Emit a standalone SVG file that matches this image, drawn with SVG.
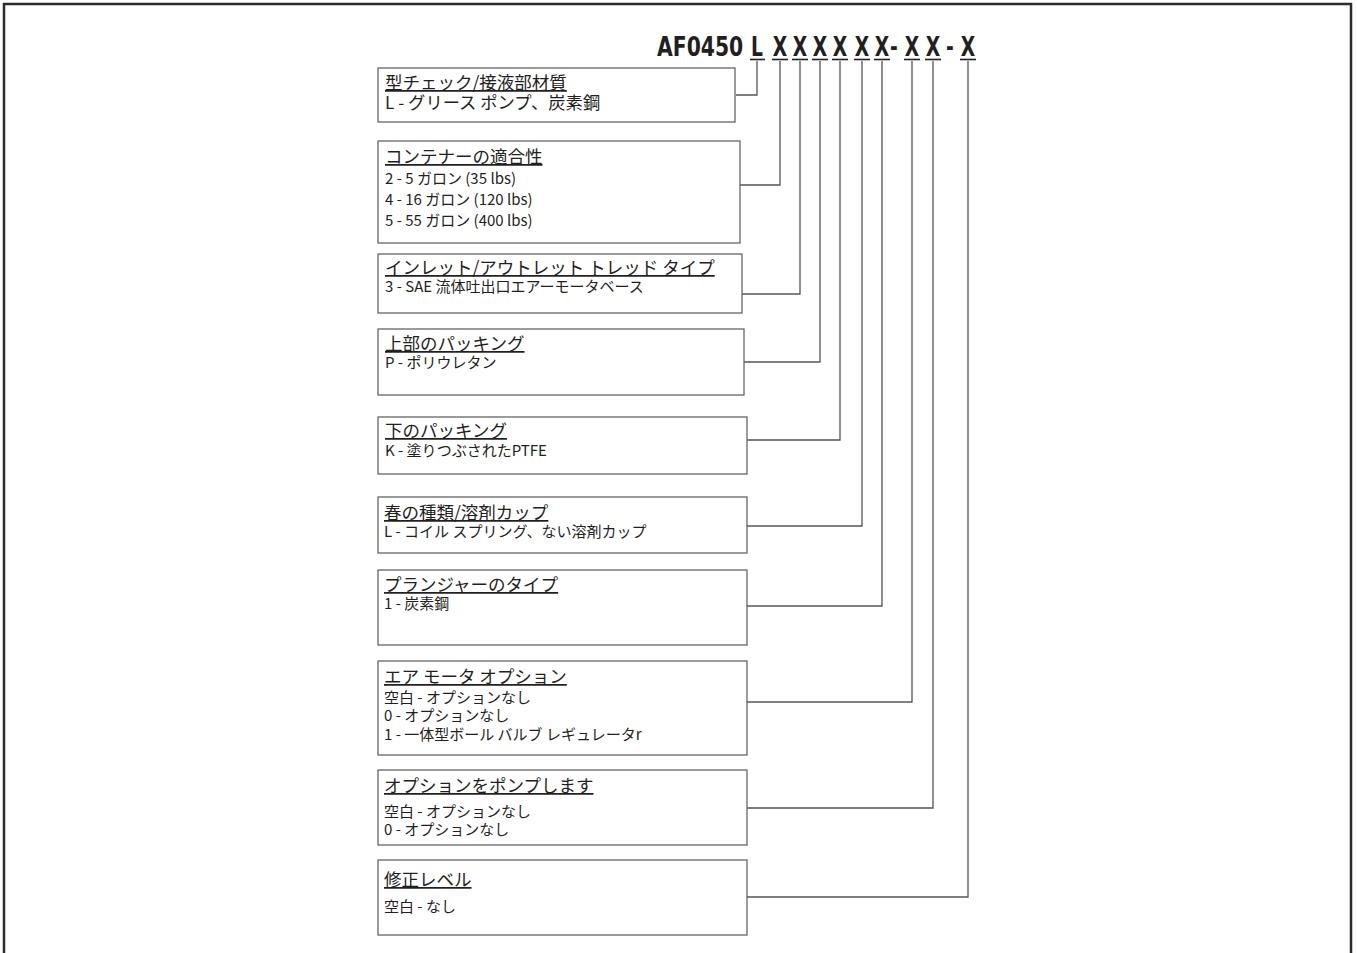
<svg xmlns="http://www.w3.org/2000/svg" width="1357" height="953" viewBox="0 0 1357 953">
<style>
.frame{fill:none;stroke:#2b2b2b;stroke-width:2.5}
.box{fill:#fff;stroke:#666;stroke-width:1.3}
.conn{fill:none;stroke:#555;stroke-width:1.3}
.t{font-family:"Noto Sans CJK JP","Noto Sans",sans-serif;font-size:17.5px;fill:#231f20;text-decoration:underline}
.b{font-family:"Noto Sans CJK JP","Noto Sans",sans-serif;font-size:15px;fill:#231f20}
.b1{font-family:"Noto Sans CJK JP","Noto Sans",sans-serif;font-size:17.3px;fill:#231f20}
.h{font-family:"DejaVu Sans Condensed","DejaVu Sans",sans-serif;font-weight:bold;font-size:26px;fill:#231f20}
.ul{stroke:#231f20;stroke-width:1.6}
</style>
<rect class="frame" x="4" y="4" width="1347" height="1000"/>
<g id="header">
<text class="h" transform="translate(657,56) scale(0.87,1)" x="0" y="0">AF0450</text>
<text class="h" text-anchor="middle" transform="translate(0,56) scale(0.8,1)"><tspan x="946.25" y="0">L</tspan><tspan x="975" y="0">X</tspan><tspan x="1000" y="0">X</tspan><tspan x="1025" y="0">X</tspan><tspan x="1050" y="0">X</tspan><tspan x="1077.5" y="0">X</tspan><tspan x="1102.5" y="0">X</tspan><tspan x="1117.5" y="0">-</tspan><tspan x="1140" y="0">X</tspan><tspan x="1166.25" y="0">X</tspan><tspan x="1187.5" y="0">-</tspan><tspan x="1210" y="0">X</tspan></text>
<g class="ul">
<line x1="750" y1="59.5" x2="765" y2="59.5"/>
<line x1="772" y1="59.5" x2="788" y2="59.5"/>
<line x1="792" y1="59.5" x2="808" y2="59.5"/>
<line x1="812" y1="59.5" x2="828" y2="59.5"/>
<line x1="832" y1="59.5" x2="848" y2="59.5"/>
<line x1="854" y1="59.5" x2="870" y2="59.5"/>
<line x1="874" y1="59.5" x2="890" y2="59.5"/>
<line x1="904" y1="59.5" x2="920" y2="59.5"/>
<line x1="925" y1="59.5" x2="941" y2="59.5"/>
<line x1="960" y1="59.5" x2="976" y2="59.5"/>
</g>
</g>
<g id="connectors">
<polyline class="conn" points="757,61 757,95 736,95"/>
<polyline class="conn" points="780,61 780,185 740,185"/>
<polyline class="conn" points="800,61 800,294 742,294"/>
<polyline class="conn" points="820,61 820,362 744,362"/>
<polyline class="conn" points="840,61 840,440 747,440"/>
<polyline class="conn" points="862,61 862,526 747,526"/>
<polyline class="conn" points="882,61 882,606 747,606"/>
<polyline class="conn" points="912,61 912,702 747,702"/>
<polyline class="conn" points="933,61 933,808 747,808"/>
<polyline class="conn" points="968,61 968,897 747,897"/>
</g>
<g id="n1">
<rect class="box" x="378" y="68" width="357" height="54"/>
<text class="t" x="385" y="89">型チェック/接液部材質</text>
<text class="b1" x="385" y="109">L - グリース ポンプ、炭素鋼</text>
</g>
<g id="n2">
<rect class="box" x="378" y="141" width="362" height="102"/>
<text class="t" x="385" y="163">コンテナーの適合性</text>
<text class="b" x="385" y="184">2 - 5 ガロン (35 lbs)</text>
<text class="b" x="385" y="205">4 - 16 ガロン (120 lbs)</text>
<text class="b" x="385" y="226">5 - 55 ガロン (400 lbs)</text>
</g>
<g id="n3">
<rect class="box" x="378" y="254" width="364" height="59"/>
<text class="t" x="385" y="274">インレット/アウトレット トレッド タイプ</text>
<text class="b" x="385" y="292">3 - SAE 流体吐出口エアーモータベース</text>
</g>
<g id="n4">
<rect class="box" x="378" y="329" width="366" height="66"/>
<text class="t" x="385" y="350">上部のパッキング</text>
<text class="b" x="385" y="368">P - ポリウレタン</text>
</g>
<g id="n5">
<rect class="box" x="378" y="417" width="369" height="57"/>
<text class="t" x="385" y="437">下のパッキング</text>
<text class="b" x="385" y="456">K - 塗りつぶされたPTFE</text>
</g>
<g id="n6">
<rect class="box" x="378" y="497" width="369" height="56"/>
<text class="t" x="384" y="519">春の種類/溶剤カップ</text>
<text class="b" x="384" y="537">L - コイル スプリング、ない溶剤カップ</text>
</g>
<g id="n7">
<rect class="box" x="378" y="570" width="369" height="75"/>
<text class="t" x="384" y="591">プランジャーのタイプ</text>
<text class="b" x="384" y="609">1 - 炭素鋼</text>
</g>
<g id="n8">
<rect class="box" x="378" y="661" width="369" height="94"/>
<text class="t" x="384" y="683">エア モータ オプション</text>
<text class="b" x="384" y="703">空白 - オプションなし</text>
<text class="b" x="384" y="721">0 - オプションなし</text>
<text class="b" x="384" y="740">1 - 一体型ボール バルブ レギュレータr</text>
</g>
<g id="n9">
<rect class="box" x="378" y="770" width="369" height="75"/>
<text class="t" x="384" y="792">オプションをポンプします</text>
<text class="b" x="384" y="817">空白 - オプションなし</text>
<text class="b" x="384" y="835">0 - オプションなし</text>
</g>
<g id="n10">
<rect class="box" x="378" y="860" width="369" height="75"/>
<text class="t" x="384" y="886">修正レベル</text>
<text class="b" x="384" y="912">空白 - なし</text>
</g>
</svg>
